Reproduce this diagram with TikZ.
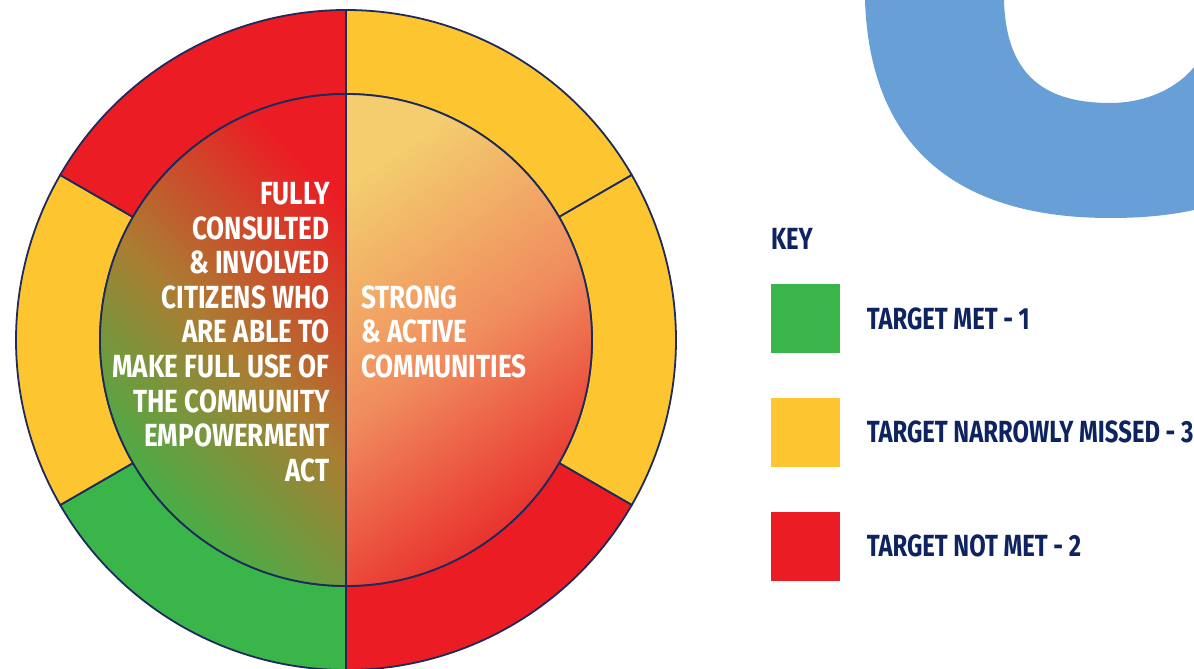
\documentclass[tikz,border=0pt]{standalone}
\usepackage{fontspec}
\newfontfamily\condfont{Fira Sans}[FakeStretch=0.815]
\newfontfamily\keyfont{Fira Sans}[FakeStretch=0.78]
\usepackage{xcolor}
\usepackage{tikz}
\usetikzlibrary{positioning, calc}
\definecolor{tred}{HTML}{EC1C24}
\definecolor{tyellow}{HTML}{FDC530}
\definecolor{tgreen}{HTML}{39B54A}
\definecolor{rimnavy}{HTML}{1E2A5A}
\definecolor{keynavy}{HTML}{0E2460}
\definecolor{cblue}{HTML}{679FD6}
\tikzset{% styles for the wheel and the key
	ring/.style={draw=rimnavy, line width=0.9pt, line join=round},
	spine/.style={draw=rimnavy, line width=1.2pt},
	circtext/.style={text=white, inner sep=0pt, font=\condfont\bfseries\fontsize{16}{17.3}\selectfont},
	keybox/.style={minimum size=34.5pt, inner sep=0pt},
	keytext/.style={text=keynavy, inner sep=0pt, font=\keyfont\bfseries\fontsize{15.3}{17}\selectfont},
}
\begin{document}
\begin{tikzpicture}[x=0.5pt, y=0.5pt]
	\useasboundingbox (0,0) rectangle (1194,669);
	\coordinate (c) at (346,329);
	
	% big blue letter in the corner
	\fill[cblue] (865,669) .. controls (870,519) and (960,451) .. (1110,451)
		.. controls (1150,451) and (1175,455) .. (1194,459) -- (1194,602)
		.. controls (1180,584) and (1150,566) .. (1110,566)
		.. controls (1050,566) and (1006,589) .. (1004,669) -- cycle;
	
	% outer ring
	\filldraw[ring, fill=tyellow] ($(c)+(30:165pt)$) arc[start angle=30, end angle=90, radius=165pt]
		-- ($(c)+(90:123pt)$) arc[start angle=90, end angle=30, radius=123pt] -- cycle;
	\filldraw[ring, fill=tyellow] ($(c)+(-30:165pt)$) arc[start angle=-30, end angle=30, radius=165pt]
		-- ($(c)+(30:123pt)$) arc[start angle=30, end angle=-30, radius=123pt] -- cycle;
	\filldraw[ring, fill=tred] ($(c)+(-90:165pt)$) arc[start angle=-90, end angle=-30, radius=165pt]
		-- ($(c)+(-30:123pt)$) arc[start angle=-30, end angle=-90, radius=123pt] -- cycle;
	\filldraw[ring, fill=tgreen] ($(c)+(-150:165pt)$) arc[start angle=-150, end angle=-90, radius=165pt]
		-- ($(c)+(-90:123pt)$) arc[start angle=-90, end angle=-150, radius=123pt] -- cycle;
	\filldraw[ring, fill=tyellow] ($(c)+(150:165pt)$) arc[start angle=150, end angle=210, radius=165pt]
		-- ($(c)+(210:123pt)$) arc[start angle=210, end angle=150, radius=123pt] -- cycle;
	\filldraw[ring, fill=tred] ($(c)+(90:165pt)$) arc[start angle=90, end angle=150, radius=165pt]
		-- ($(c)+(150:123pt)$) arc[start angle=150, end angle=90, radius=123pt] -- cycle;
	
	% inner halves
	\shade[top color=tred, bottom color=tgreen, middle color={rgb,255:red,170;green,125;blue,50}, shading angle=-45]
		(c) -- ($(c)+(90:123pt)$) arc[start angle=90, end angle=270, radius=123pt] -- cycle;
	\shade[top color={rgb,255:red,243;green,205;blue,110}, bottom color={rgb,255:red,232;green,40;blue,40},
		middle color={rgb,255:red,240;green,140;blue,94}, shading angle=35]
		(c) -- ($(c)+(-90:123pt)$) arc[start angle=-90, end angle=90, radius=123pt] -- cycle;
	\draw[ring] (c) circle[radius=123pt];
	\draw[spine] ($(c)+(0,165pt)$) -- ($(c)+(0,-165pt)$);
	
	\node[circtext, align=right, anchor=north east] (lhs) at (330,487)
		{FULLY\\CONSULTED\\\& INVOLVED\\CITIZENS WHO\\ARE ABLE TO\\MAKE FULL USE OF\\THE COMMUNITY\\EMPOWERMENT\\ACT};
	\node[circtext, align=left, anchor=north west] (rhs) at (361,384)
		{STRONG\\\& ACTIVE\\COMMUNITIES};
	
	% key
	\node[keybox, fill=tgreen] (kmet) at (805.5,350.5) {};
	\node[keybox, fill=tyellow, below=22pt of kmet] (kmissed) {};
	\node[keybox, fill=tred, below=22pt of kmissed] (knot) {};
	\node[keytext, above right=17pt and 0pt of kmet.north west] (key) {KEY};
	\node[keytext, right=13pt of kmet] (lmet) {TARGET MET - 1};
	\node[keytext, right=13pt of kmissed] (lmissed) {TARGET NARROWLY MISSED - 3};
	\node[keytext, right=13pt of knot] (lnot) {TARGET NOT MET - 2};
\end{tikzpicture}
\end{document}
